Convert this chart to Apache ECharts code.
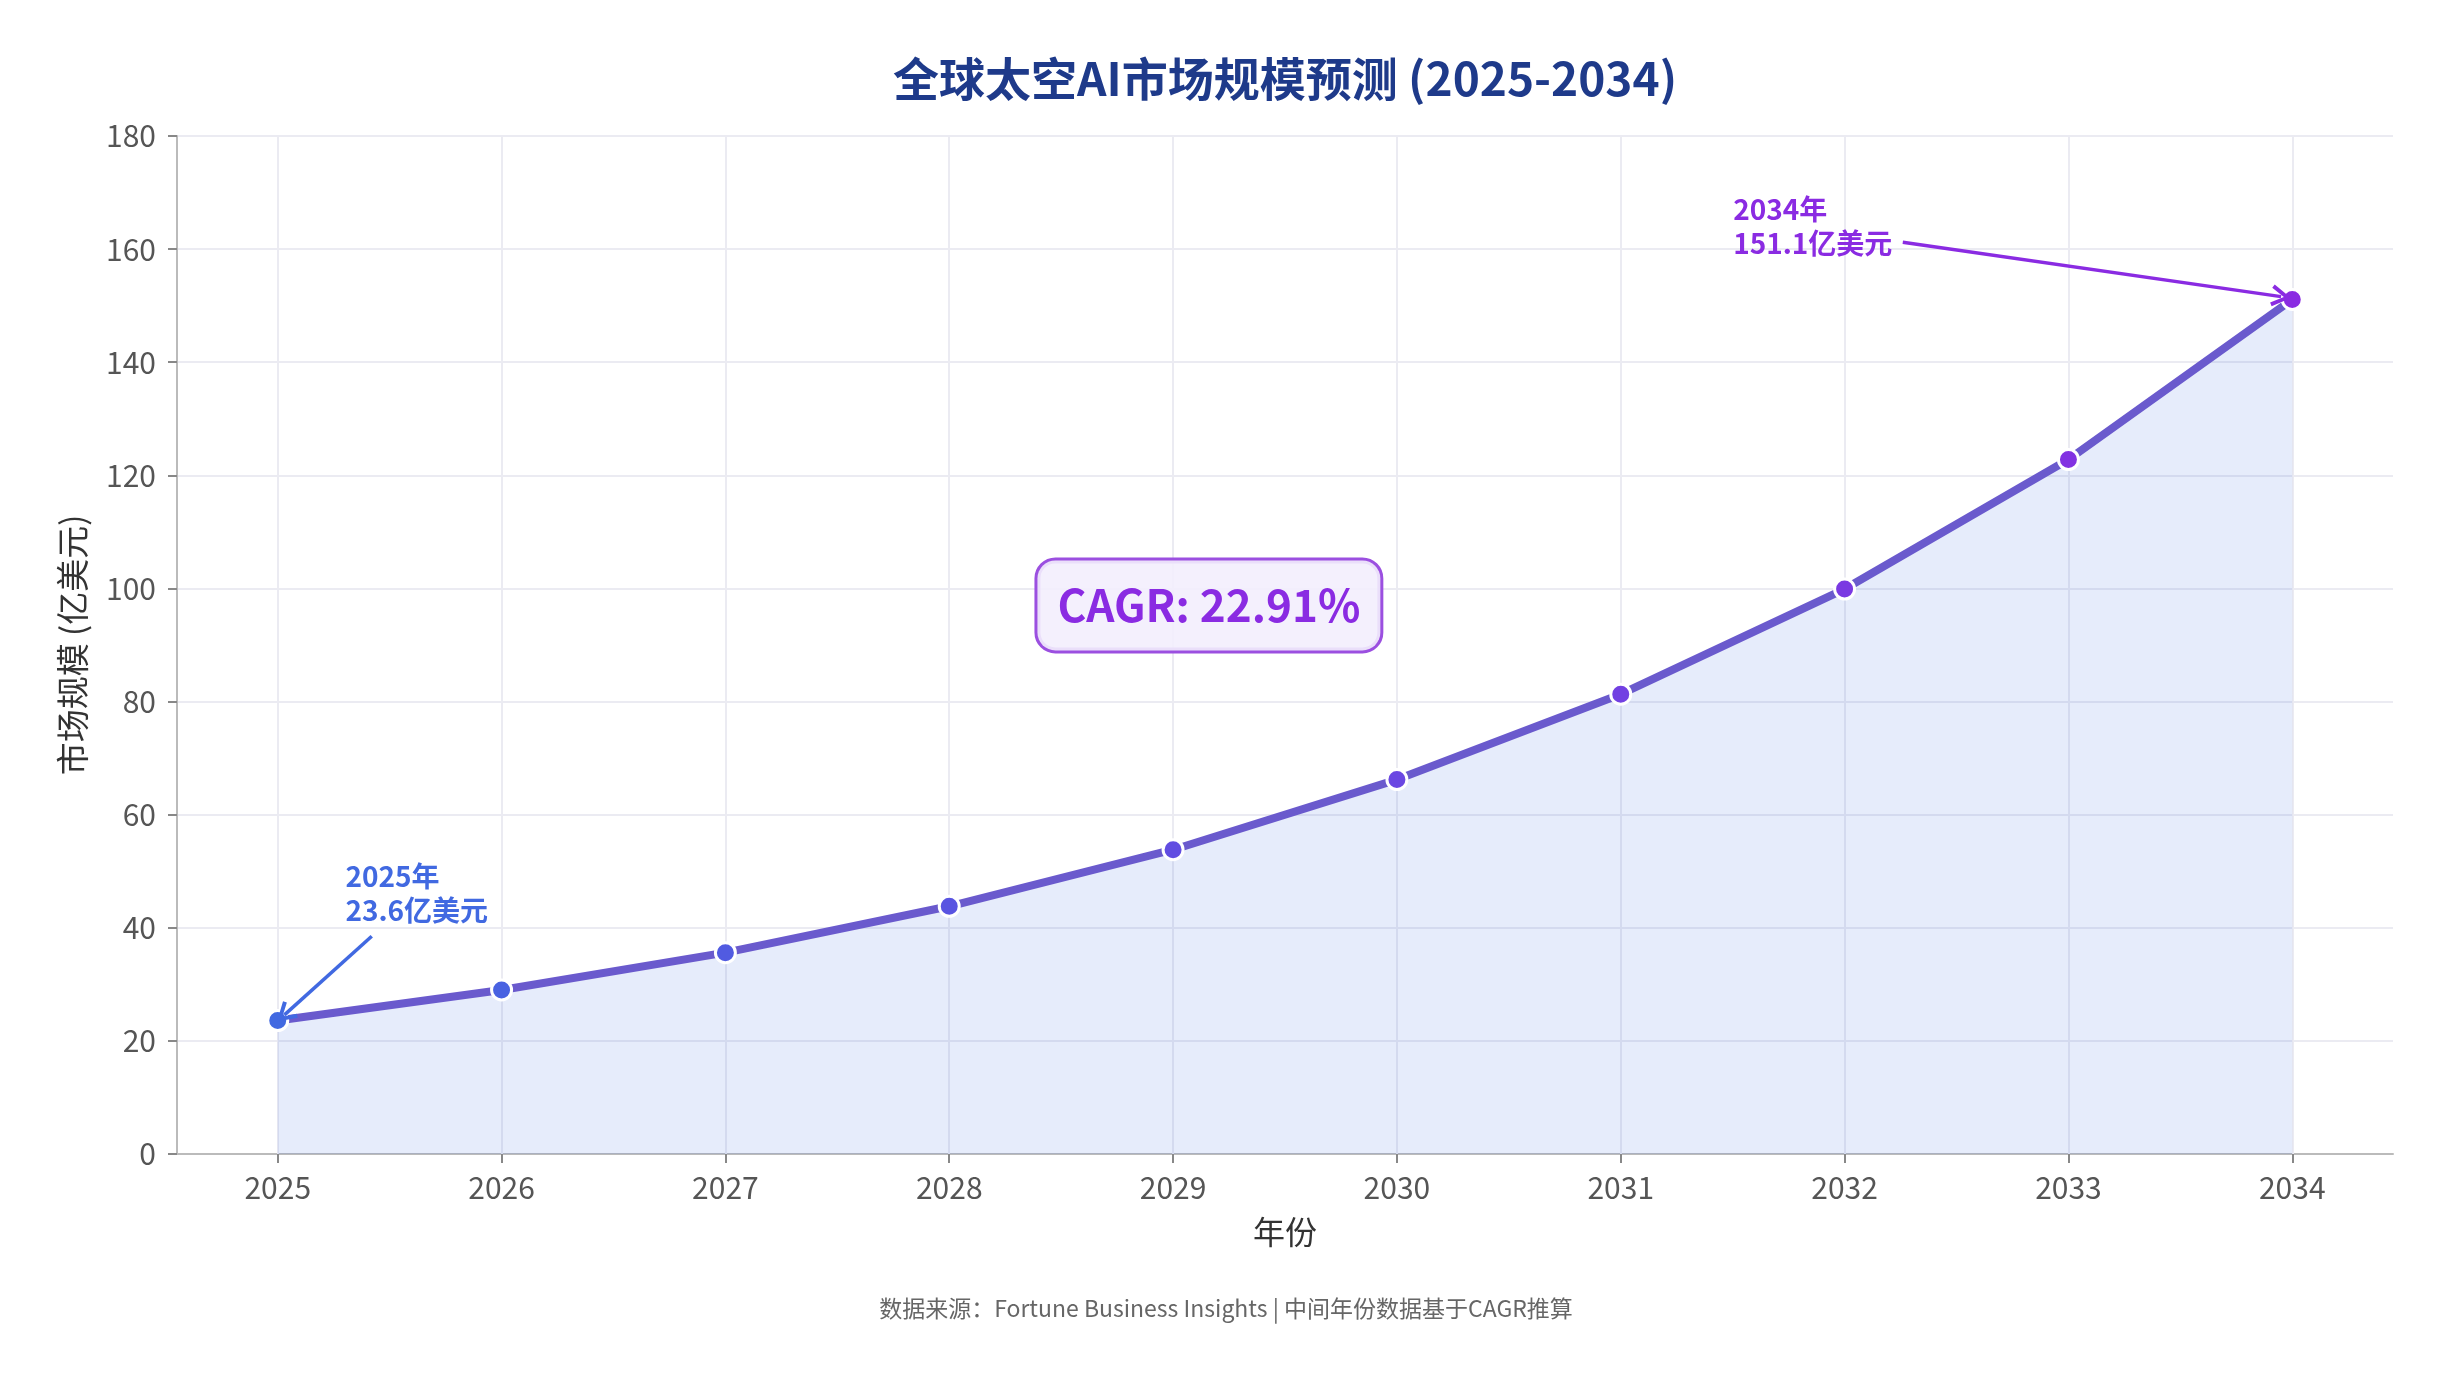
<!DOCTYPE html>
<html>
<head>
<meta charset="utf-8">
<title>全球太空AI市场规模预测</title>
<script src="https://cdn.jsdelivr.net/npm/echarts@6/dist/echarts.min.js"></script>
<style>
  html, body { margin: 0; padding: 0; background: #fff; }
  #main { width: 2452px; height: 1378px; }
</style>
</head>
<body>
<div id="main"></div>
<script>
// 数据
const years = [2025, 2026, 2027, 2028, 2029, 2030, 2031, 2032, 2033, 2034];
const marketSize = [23.6, 29.0, 35.6, 43.8, 53.8, 66.2, 81.3, 99.9, 122.8, 151.1];
const cagrText = 'CAGR: 22.91%';
const sourceText = '数据来源：Fortune Business Insights | 中间年份数据基于CAGR推算';

const FONT = '"Noto Sans CJK SC", "Noto Sans", sans-serif';
const first = 0, last = years.length - 1;
const GRID_COLOR = '#ebebf2';

// 点颜色：蓝 -> 紫
function mix(a, b, t) {
    const pa = [1, 3, 5].map(i => parseInt(a.substr(i, 2), 16));
    const pb = [1, 3, 5].map(i => parseInt(b.substr(i, 2), 16));
    return 'rgb(' + pa.map((v, k) => Math.round(v + (pb[k] - v) * t)).join(',') + ')';
}

// 开口箭头
const arrowHead = 'path://M5,0 L10,9 L8.4,10 L5,3.6 L1.6,10 L0,9 Z';

function initChart() {
    const chart = echarts.init(document.getElementById('main'));

    const option = {
        animation: false,
        backgroundColor: '#fff',
        title: [
            {
                // 标题居中于绘图区
                text: '全球太空AI市场规模预测 (2025-2034)',
                left: 888,
                top: 51,
                textStyle: { fontFamily: FONT, fontSize: 46, fontWeight: 'bold', color: '#1e3a8a' }
            },
            {
                text: sourceText,
                left: 'center',
                top: 1292,
                textStyle: { fontFamily: FONT, fontSize: 23, fontWeight: 'normal', color: '#666' }
            }
        ],
        grid: { left: 177, right: 59, top: 136, bottom: 224 },
        xAxis: {
            type: 'value',
            min: 2024.55,
            max: 2034.45,
            minInterval: 1,
            maxInterval: 1,
            name: '年份',
            nameLocation: 'middle',
            nameGap: 62,
            nameTextStyle: { fontFamily: FONT, fontSize: 32, color: '#333' },
            axisLine: { lineStyle: { color: '#bbb', width: 2 } },
            axisTick: { length: 9, customValues: years, lineStyle: { color: '#888', width: 2 } },
            axisLabel: {
                fontFamily: FONT, fontSize: 30, color: '#555', margin: 19,
                customValues: years,
                formatter: v => Number.isInteger(v) ? String(v) : ''
            },
            splitLine: { show: false }
        },
        yAxis: {
            type: 'value',
            min: 0,
            max: 180,
            interval: 20,
            name: '市场规模 (亿美元)',
            nameLocation: 'middle',
            nameGap: 88,
            nameTextStyle: { fontFamily: FONT, fontSize: 33, color: '#333' },
            axisLine: { show: true, lineStyle: { color: '#bbb', width: 2 } },
            axisTick: { show: true, length: 9, lineStyle: { color: '#888', width: 2 } },
            axisLabel: { fontFamily: FONT, fontSize: 30, color: '#555', margin: 21 },
            splitLine: { show: true, lineStyle: { color: GRID_COLOR, width: 2 } }
        },
        series: [
            // 竖向网格线（仅整数年份）
            {
                name: 'grid-x',
                type: 'line',
                data: [],
                z: 1,
                silent: true,
                markLine: {
                    z: 1,
                    silent: true,
                    animation: false,
                    symbol: ['none', 'none'],
                    label: { show: false },
                    lineStyle: { color: GRID_COLOR, width: 2, type: 'solid' },
                    data: years.map(y => ({ xAxis: y }))
                }
            },
            {
                name: '市场规模',
                type: 'line',
                data: years.map((y, i) => [y, marketSize[i]]),
                symbol: 'circle',
                symbolSize: 20,
                lineStyle: { color: '#6a5acd', width: 8 },
                itemStyle: {
                    color: p => mix('#4169e1', '#8a2be2', p.dataIndex / last),
                    borderColor: '#fff',
                    borderWidth: 3
                },
                areaStyle: { color: 'rgba(65,105,225,0.13)', opacity: 1, origin: 'start' },
                z: 3,
                markLine: {
                    silent: true,
                    animation: false,
                    symbol: ['none', arrowHead],
                    symbolSize: [22, 20],
                    label: { show: false },
                    data: [
                        [
                            { coord: [2025.42, 38.5], lineStyle: { color: '#4169e1', width: 3.5, type: 'solid' } },
                            { coord: [2025.03, 24.6] }
                        ],
                        [
                            { coord: [2032.26, 161.2], lineStyle: { color: '#8a2be2', width: 3.5, type: 'solid' } },
                            { coord: [2033.95, 151.6] }
                        ]
                    ]
                },
                markPoint: {
                    silent: true,
                    animation: false,
                    symbol: 'circle',
                    symbolSize: 1,
                    itemStyle: { color: 'rgba(0,0,0,0)' },
                    data: [
                        {
                            coord: [2025.3, 46],
                            label: {
                                show: true, position: 'right', distance: 0,
                                formatter: years[first] + '年\n' + marketSize[first] + '亿美元',
                                fontFamily: FONT, fontSize: 28, fontWeight: 'bold',
                                lineHeight: 34, color: '#4169e1'
                            }
                        },
                        {
                            coord: [2031.5, 164],
                            label: {
                                show: true, position: 'right', distance: 0,
                                formatter: years[last] + '年\n' + marketSize[last] + '亿美元',
                                fontFamily: FONT, fontSize: 28, fontWeight: 'bold',
                                lineHeight: 34, color: '#8a2be2'
                            }
                        },
                        {
                            coord: [2029.16, 97],
                            label: {
                                show: true, position: 'inside',
                                formatter: cagrText,
                                fontFamily: FONT, fontSize: 44, fontWeight: 'bold',
                                color: '#8a2be2',
                                backgroundColor: 'rgba(243,238,253,0.9)',
                                borderColor: '#9b4fe0', borderWidth: 3, borderRadius: 18,
                                padding: [23, 20]
                            }
                        }
                    ]
                }
            }
        ]
    };

    chart.setOption(option);
    window.addEventListener('resize', () => chart.resize());
}
window.addEventListener('load', initChart);
</script>
</body>
</html>
